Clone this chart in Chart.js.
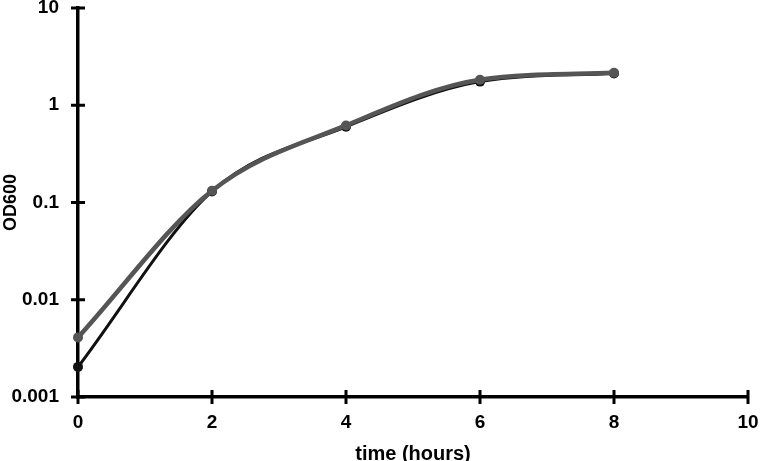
<!DOCTYPE html>
<html>
<head>
<meta charset="utf-8">
<script src="https://cdn.jsdelivr.net/npm/chart.js@4.4.1/dist/chart.umd.min.js"></script>
<style>
  html, body { margin: 0; padding: 0; background: #fff; }
  #wrap { width: 760px; height: 461px; }
</style>
</head>
<body>
<div id="wrap"><canvas id="growthChart"></canvas></div>
<script>
// time points (hours)
const hours = [0, 2, 4, 6, 8];
// OD600 readings, two cultures
const odBlack = [0.00204, 0.13, 0.6, 1.75, 2.12];
const odGray = [0.0041, 0.132, 0.62, 1.83, 2.16];
// axis ticks
const yTicks = [0.001, 0.01, 0.1, 1, 10];
const xTicks = [0, 2, 4, 6, 8, 10];

const toPoints = (ys) => hours.map((h, i) => ({ x: h, y: ys[i] }));

// ticks that cross the axis line
const crossTicks = {
  id: 'crossTicks',
  afterDraw(chart) {
    const ctx = chart.ctx;
    const xs = chart.scales.x;
    const ys = chart.scales.y;
    ctx.save();
    ctx.strokeStyle = '#000';
    ctx.lineWidth = 3;
    ctx.beginPath();
    xTicks.forEach(v => {
      const px = xs.getPixelForValue(v);
      ctx.moveTo(px, ys.bottom - 7);
      ctx.lineTo(px, ys.bottom + 7);
    });
    yTicks.forEach(v => {
      const py = ys.getPixelForValue(v);
      ctx.moveTo(xs.left - 7, py);
      ctx.lineTo(xs.left + 7, py);
    });
    ctx.stroke();
    ctx.restore();
  }
};

const font = { family: 'Liberation Sans, Arial, sans-serif', size: 19, weight: 'bold' };

new Chart(document.getElementById('growthChart').getContext('2d'), {
  type: 'line',
  data: {
    datasets: [
      {
        label: 'culture B',
        data: toPoints(odGray),
        borderColor: '#555',
        backgroundColor: '#555',
        borderWidth: 4.5,
        pointRadius: 5,
        pointBorderWidth: 0,
        clip: false,
        cubicInterpolationMode: 'monotone'
      },
      {
        label: 'culture A',
        data: toPoints(odBlack),
        borderColor: '#111',
        backgroundColor: '#111',
        borderWidth: 3,
        pointRadius: 5,
        pointBorderWidth: 0,
        clip: false,
        cubicInterpolationMode: 'monotone'
      }
    ]
  },
  options: {
    responsive: true,
    maintainAspectRatio: false,
    animation: false,
    layout: { padding: { top: 8, right: 12, left: 0, bottom: 0 } },
    plugins: {
      legend: { display: false },
      tooltip: { enabled: false }
    },
    scales: {
      x: {
        type: 'linear',
        min: 0,
        max: 10,
        grid: { display: false },
        border: { display: true, color: '#000', width: 3.5 },
        afterBuildTicks: (s) => { s.ticks = xTicks.map(v => ({ value: v })); },
        afterFit: (s) => { s.height = 64; s.paddingLeft = 0; s.paddingRight = 0; },
        ticks: { color: '#000', font: font, padding: 6, maxRotation: 0 },
        title: {
          display: true, text: 'time (hours)', color: '#000',
          font: { ...font, size: 20, lineHeight: 1 },
          padding: { top: 0, bottom: -3 }
        }
      },
      y: {
        type: 'logarithmic',
        min: 0.001,
        max: 10,
        grid: { display: false },
        border: { display: true, color: '#000', width: 3.5 },
        afterBuildTicks: (s) => { s.ticks = yTicks.map(v => ({ value: v })); },
        afterFit: (s) => { s.width = 78; s.paddingTop = 0; s.paddingBottom = 0; },
        ticks: { color: '#000', font: font, padding: 11, callback: (v) => String(v) },
        title: { display: true, text: 'OD600', color: '#000', font: { ...font, size: 18 }, padding: { top: 0, bottom: 0 } }
      }
    }
  },
  plugins: [crossTicks]
});
</script>
</body>
</html>
